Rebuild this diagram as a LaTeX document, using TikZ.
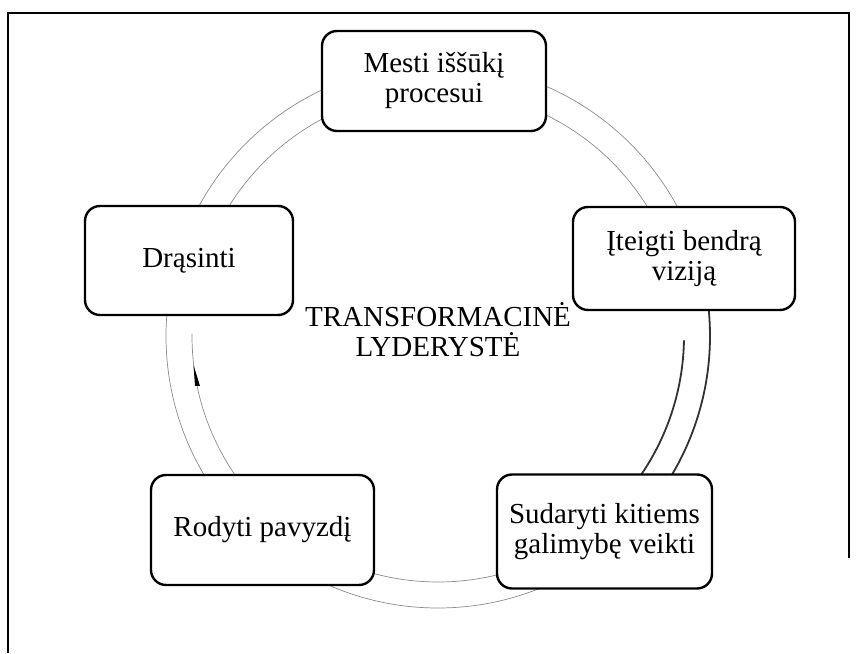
\documentclass[tikz,border=0pt]{standalone}
\usepackage{fontspec}
\setmainfont{Liberation Serif}
\begin{document}
\begin{tikzpicture}[x=1pt,y=1pt,
  stage/.style={draw=black, line width=2.4pt, rounded corners=15pt, fill=white,
    align=center, inner sep=0pt, font=\fontsize{29}{30}\selectfont},
  ring/.style={draw=black!45, line width=0.7pt},
  ringdark/.style={draw=black!80, line width=1.8pt},
  frameline/.style={draw=black, line width=1.6pt}]
\useasboundingbox (0,0) rectangle (859,653);
\coordinate (c) at (438,317);

% page frame
\coordinate (fbl) at (8,0);
\coordinate (ftl) at (8,640);
\coordinate (ftr) at (849,640);
\coordinate (fbr) at (849,95);
\draw[frameline] (fbl) -- (ftl) -- (ftr) -- (fbr);

% cycle ring: outer and inner tracks
\draw[ring] (c) circle[radius=272pt];
\draw[ring] ([shift={(6:246)}]c) arc[start angle=6, end angle=175, radius=246pt];
\draw[ring] ([shift={(179.5:246)}]c) arc[start angle=179.5, end angle=359, radius=246pt];
\draw[ringdark] ([shift={(6:272)}]c) arc[start angle=6, end angle=-33, radius=272pt];
\draw[ringdark] ([shift={(-1:246)}]c) arc[start angle=-1, end angle=-36, radius=246pt];
\fill[black] (193.5,288) -- (200,267) -- (195,267) -- cycle;

% stages
\node[stage, minimum width=224pt, minimum height=100pt] (challenge) at (434,572) {Mesti iššūkį\\procesui};
\node[stage, minimum width=222pt, minimum height=103pt] (vision) at (684,394.5) {Įteigti bendrą\\viziją};
\node[stage, minimum width=215pt, minimum height=114pt] (enable) at (604.5,121.5) {Sudaryti kitiems\\galimybę veikti};
\node[stage, minimum width=223pt, minimum height=110pt] (model) at (262.5,123) {Rodyti pavyzdį};
\node[stage, minimum width=208pt, minimum height=109pt] (encourage) at (189,392.5) {Drąsinti};

% centre label
\node[align=center, inner sep=0pt, font=\fontsize{29}{30}\selectfont] (core) at (438,323) {TRANSFORMACINĖ\\LYDERYSTĖ};
\end{tikzpicture}
\end{document}
